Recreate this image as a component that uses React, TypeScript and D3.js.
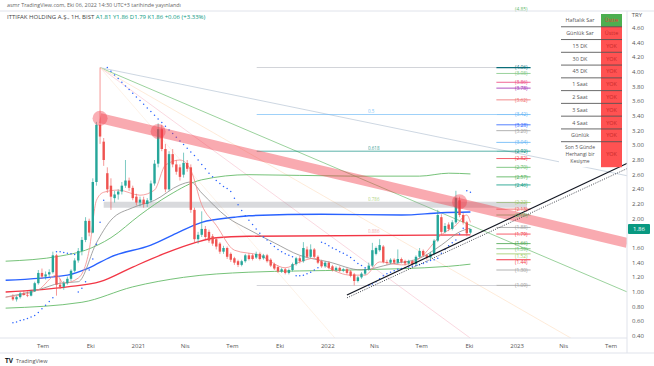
import { useEffect, useRef } from 'react';
import * as d3 from 'd3';

const W = 654;
const H = 366;
const plotRight = 627;
const plotTop = 11;
const plotBottom = 338;

// weekly bars, first bar week of 4 May 2020
const firstWeek = new Date(2020, 4, 4);

const opens = [0.93, 0.90, 0.93, 0.98, 0.96, 0.95, 1.01, 1.12, 1.26, 1.21, 1.24, 1.27, 1.50, 1.10, 1.07, 1.12, 1.18, 1.29, 1.43, 1.56,
  1.71, 1.97, 1.81, 2.50, 3.28, 3.05, 2.62, 2.45, 2.28, 2.33, 2.37, 2.45, 2.52, 2.42, 2.30, 2.22, 2.26, 2.20, 2.25, 2.48,
  2.75, 3.22, 2.95, 2.40, 2.88, 2.74, 2.70, 2.60, 2.76, 2.70, 2.12, 1.72, 1.78, 1.86, 1.82, 1.76, 1.72, 1.66, 1.55, 1.60,
  1.52, 1.46, 1.42, 1.37, 1.42, 1.50, 1.50, 1.47, 1.52, 1.46, 1.50, 1.44, 1.38, 1.34, 1.28, 1.31, 1.26, 1.30, 1.38, 1.46,
  1.42, 1.58, 1.48, 1.58, 1.48, 1.42, 1.35, 1.40, 1.35, 1.30, 1.33, 1.29, 1.31, 1.28, 1.24, 1.15, 1.20, 1.25, 1.31, 1.36,
  1.52, 1.57, 1.62, 1.41, 1.40, 1.44, 1.40, 1.45, 1.42, 1.39, 1.42, 1.38, 1.48, 1.56, 1.50, 1.47, 1.52, 1.70, 2.02, 1.82,
  1.92, 1.86, 1.95, 2.25, 2.05, 1.95, 1.81];
const highs = [0.97, 0.95, 1.00, 1.02, 1.01, 1.03, 1.14, 1.30, 1.32, 1.28, 1.31, 1.55, 1.52, 1.18, 1.15, 1.21, 1.31, 1.46, 1.60, 1.75,
  2.02, 2.00, 2.55, 3.32, 4.06, 3.10, 2.70, 2.55, 2.38, 2.40, 2.50, 2.80, 2.56, 2.45, 2.34, 2.30, 2.30, 2.28, 2.52, 2.80,
  3.30, 3.28, 3.02, 2.92, 2.95, 2.80, 2.74, 2.90, 2.80, 2.74, 2.15, 1.82, 2.10, 1.90, 1.85, 1.79, 1.75, 1.68, 1.63, 1.62,
  1.54, 1.48, 1.44, 1.44, 1.52, 1.53, 1.52, 1.55, 1.54, 1.52, 1.52, 1.46, 1.40, 1.36, 1.33, 1.33, 1.32, 1.40, 1.48, 1.49,
  1.68, 1.62, 1.65, 1.60, 1.50, 1.44, 1.42, 1.42, 1.37, 1.35, 1.35, 1.33, 1.33, 1.30, 1.26, 1.22, 1.27, 1.33, 1.40, 1.67,
  1.62, 1.72, 1.64, 1.44, 1.46, 1.46, 1.58, 1.47, 1.44, 1.44, 1.44, 1.50, 1.60, 1.58, 1.52, 1.55, 1.72, 2.12, 2.06, 1.94,
  1.95, 1.98, 2.38, 2.30, 2.08, 1.97, 1.86];
const lows = [0.88, 0.87, 0.91, 0.95, 0.93, 0.94, 1.00, 1.10, 1.18, 1.17, 1.20, 1.25, 0.95, 1.04, 1.03, 1.10, 1.15, 1.27, 1.40, 1.50,
  1.68, 1.76, 1.80, 2.45, 3.02, 2.72, 2.35, 2.12, 2.22, 2.26, 2.33, 2.42, 2.38, 2.25, 2.18, 2.17, 2.15, 2.16, 2.22, 2.45,
  2.70, 2.92, 2.36, 2.38, 2.70, 2.60, 2.52, 2.56, 2.64, 2.08, 1.68, 1.66, 1.75, 1.72, 1.67, 1.63, 1.58, 1.52, 1.52, 1.45,
  1.41, 1.37, 1.34, 1.35, 1.40, 1.43, 1.43, 1.45, 1.43, 1.44, 1.40, 1.34, 1.30, 1.26, 1.26, 1.24, 1.24, 1.28, 1.36, 1.39,
  1.40, 1.46, 1.46, 1.46, 1.38, 1.33, 1.33, 1.31, 1.28, 1.28, 1.27, 1.27, 1.24, 1.20, 1.09, 1.13, 1.18, 1.23, 1.29, 1.34,
  1.50, 1.55, 1.39, 1.37, 1.38, 1.38, 1.38, 1.39, 1.36, 1.37, 1.36, 1.37, 1.46, 1.48, 1.44, 1.45, 1.50, 1.68, 1.78, 1.80,
  1.83, 1.84, 1.93, 2.02, 1.92, 1.76, 1.79];
const closes = [0.90, 0.93, 0.98, 0.96, 0.95, 1.01, 1.12, 1.26, 1.21, 1.24, 1.27, 1.50, 1.10, 1.07, 1.12, 1.18, 1.29, 1.43, 1.56, 1.71,
  1.97, 1.81, 2.50, 3.28, 3.12, 2.80, 2.40, 2.30, 2.33, 2.37, 2.45, 2.52, 2.42, 2.28, 2.22, 2.26, 2.20, 2.25, 2.48, 2.75,
  3.22, 2.95, 2.40, 2.88, 2.74, 2.64, 2.57, 2.76, 2.68, 2.12, 1.72, 1.78, 1.86, 1.75, 1.70, 1.66, 1.62, 1.55, 1.60, 1.48,
  1.44, 1.40, 1.37, 1.42, 1.50, 1.45, 1.45, 1.52, 1.45, 1.50, 1.42, 1.36, 1.32, 1.28, 1.31, 1.26, 1.30, 1.38, 1.46, 1.42,
  1.60, 1.48, 1.58, 1.48, 1.40, 1.35, 1.40, 1.33, 1.30, 1.33, 1.29, 1.31, 1.26, 1.22, 1.15, 1.20, 1.25, 1.31, 1.36, 1.57,
  1.60, 1.64, 1.41, 1.40, 1.44, 1.40, 1.45, 1.41, 1.39, 1.42, 1.38, 1.48, 1.56, 1.50, 1.47, 1.52, 1.70, 2.05, 1.82, 1.90,
  1.86, 1.95, 2.28, 2.05, 1.95, 1.80, 1.86];

// parabolic SAR, one value per bar
const sar = [0.58, 0.59, 0.61, 0.62, 0.64, 0.66, 0.68, 0.72, 0.77, 0.82, 0.87, 0.92, 1.55, 1.55, 1.54, 1.53, 1.52, 1.51, 1.00, 1.05,
  1.14, 1.30, 1.45, 1.65, 1.95, 2.25, 4.06, 4.01, 3.96, 3.91, 3.86, 3.81, 3.76, 3.71, 3.66, 3.61, 3.56, 3.51, 3.46, 3.41,
  3.36, 3.31, 3.26, 3.21, 3.16, 3.11, 3.06, 3.01, 2.96, 2.91, 2.86, 2.80, 2.74, 2.68, 2.62, 2.57, 2.52, 2.48, 2.44, 2.41,
  2.37, 2.28, 2.19, 2.11, 2.04, 1.98, 1.92, 1.86, 1.80, 1.75, 1.71, 1.66, 1.62, 1.58, 1.55, 1.52, 1.50, 1.48, 1.22, 1.22,
  1.23, 1.25, 1.27, 1.30, 1.33, 1.68, 1.66, 1.63, 1.60, 1.58, 1.55, 1.53, 1.50, 1.47, 1.43, 1.39, 1.36, 1.33, 1.09, 1.11,
  1.14, 1.18, 1.22, 1.25, 1.27, 1.29, 1.31, 1.32, 1.33, 1.34, 1.35, 1.36, 1.37, 1.39, 1.41, 1.43, 1.44, 1.46, 1.53, 1.58,
  1.63, 1.67, 1.71, 1.79, 1.87, 2.38, 2.36];

// indicator lines: [week index, price]
const upperGreen = [[-2, 1.42], [13, 1.49], [20, 1.57], [27, 1.74], [35, 2.05], [43, 2.32], [52, 2.53], [65, 2.60], [93, 2.58], [112, 2.58], [120, 2.62], [126, 2.61]];
const lowerGreen = [[-2, 0.78], [19, 0.86], [33, 1.07], [47, 1.20], [65, 1.27], [93, 1.30], [120, 1.35], [126, 1.38]];
const blueMa = [[-2, 1.16], [15, 1.23], [21, 1.33], [27, 1.48], [38, 1.64], [45, 1.80], [52, 1.95], [61, 2.02], [65, 2.04], [85, 2.06], [107, 2.05], [118, 2.08], [126, 2.09]];
const redMa = [[-2, 1.00], [15, 1.07], [24, 1.14], [33, 1.34], [42, 1.53], [50, 1.67], [56, 1.74], [65, 1.76], [126, 1.78]];
const greyMa = [[-2, 0.93], [7, 1.03], [13, 1.12], [18, 1.14], [23, 1.67], [27, 1.98], [33, 2.15], [39, 2.25], [46, 2.46], [49, 2.50], [52, 2.35], [59, 2.02], [65, 1.85], [72, 1.67], [79, 1.50], [87, 1.41], [96, 1.30], [104, 1.38], [112, 1.46], [118, 1.64], [123, 1.82], [126, 1.87]];
const fastMa = [[-2, 0.93], [7, 1.03], [12, 1.23], [14, 1.12], [18, 1.19], [21, 1.57], [23, 2.25], [25, 2.36], [29, 2.39], [35, 2.32], [39, 2.39], [42, 2.73], [46, 2.80], [49, 2.66], [52, 2.19], [56, 1.91], [61, 1.57], [68, 1.50], [75, 1.33], [79, 1.41], [83, 1.46], [87, 1.33], [93, 1.23], [97, 1.23], [101, 1.41], [107, 1.37], [112, 1.46], [118, 1.78], [122, 1.91], [125, 2.05], [126, 1.95]];

// fibonacci levels and colours
const fibValues = [4.85, 4.06, 3.98, 3.86, 3.78, 3.62, 3.42, 3.28, 3.20, 3.04, 2.92, 2.82, 2.70, 2.57, 2.46, 2.22, 2.13, 2.05, 1.88, 1.79, 1.66, 1.59, 1.52, 1.44, 1.30, 1.09];
const fibColors = ['#66bb6a', '#0b6e79', '#81c784', '#ec407a', '#9c27b0', '#ef6c6c', '#64b5f6', '#2962ff', '#9e9e9e', '#64b5f6', '#00897b', '#f23645', '#66bb6a',
  '#4caf50', '#089981', '#9ccc65', '#ef5350', '#66bb6a', '#9e9e9e', '#f23645', '#43a047', '#66bb6a', '#9ccc65', '#f23645', '#9e9e9e', '#9e9e9e'];
const fibLong = [4.06, 3.42, 2.92, 1.09];

const xTicks = [[2020, 6, 'Tem'], [2020, 9, 'Eki'], [2021, 0, '2021'], [2021, 3, 'Nis'], [2021, 6, 'Tem'], [2021, 9, 'Eki'], [2022, 0, '2022'],
  [2022, 3, 'Nis'], [2022, 6, 'Tem'], [2022, 9, 'Eki'], [2023, 0, '2023'], [2023, 3, 'Nis'], [2023, 6, 'Tem']];
const yTicks = d3.range(0.4, 4.61, 0.2);

const tableLabels = ['Haftalık Sar', 'Günlük Sar', '15 DK', '30 DK', '45 DK', '1 Saat', '2 Saat', '3 Saat', '4 Saat', 'Günlük', 'Son 5 Günde|Herhangi bir|Kesişme'];
const tableValues = ['Üstte', 'Üstte', 'YOK', 'YOK', 'YOK', 'YOK', 'YOK', 'YOK', 'YOK', 'YOK', 'YOK'];

export default function App() {
  const ref = useRef<SVGSVGElement | null>(null);

  useEffect(() => {
    const svg = d3.select(ref.current);
    svg.selectAll('*').remove();
    const font = '"Open Sans", "DejaVu Sans", sans-serif';

    const x = d3.scaleTime().domain([new Date(2020, 6, 1), new Date(2023, 6, 1)]).range([43, 611]);
    const y = d3.scaleLinear().domain([0.4, 4.0]).range([336, 72]);
    const wk = (i: number) => d3.timeWeek.offset(firstWeek, i);
    const right = x.invert(plotRight + 2);

    svg.append('rect').attr('width', W).attr('height', H).attr('fill', '#fff');

    svg.append('defs').append('clipPath').attr('id', 'plot')
      .append('rect').attr('x', 0).attr('y', plotTop).attr('width', plotRight).attr('height', plotBottom - plotTop);
    const g = svg.append('g').attr('clip-path', 'url(#plot)');

    const seg = (x1: Date, p1: number, x2: Date, p2: number) =>
      g.append('line').attr('x1', x(x1)).attr('y1', y(p1)).attr('x2', x(x2)).attr('y2', y(p2));

    // fan lines from the top
    const peak = wk(24);
    seg(peak, 4.06, right, 2.58).attr('stroke', '#b7c6d6').attr('stroke-width', 0.7);
    seg(peak, 4.06, right, 0.99).attr('stroke', '#81c784').attr('stroke-width', 0.8);
    seg(peak, 4.06, wk(126), 0.37).attr('stroke', '#f8c8d4').attr('stroke-width', 0.7);
    seg(peak, 4.06, new Date(2023, 3, 15), 0.37).attr('stroke', '#fde2c8').attr('stroke-width', 0.7);
    seg(peak, 4.06, new Date(2022, 0, 15), 0.37).attr('stroke', '#fbe9d6').attr('stroke-width', 0.6);

    // fib levels
    const longStart = new Date(2021, 7, 17);
    const stubStart = new Date(2022, 10, 22);
    const stubEnd = new Date(2023, 0, 27);
    fibValues.forEach((v, k) => {
      if (fibLong.includes(v)) {
        seg(longStart, v, stubStart, v).attr('stroke', v === 4.06 || v === 1.09 ? '#b2b5be' : fibColors[k])
          .attr('stroke-width', 0.8).attr('opacity', 0.8);
      }
      seg(stubStart, v, stubEnd, v).attr('stroke', fibColors[k]).attr('stroke-width', v === 1.44 || v === 4.06 ? 1.2 : 0.8);
    });

    // grey horizontal band
    seg(wk(25), 2.19, new Date(2023, 0, 20), 2.19).attr('stroke', '#9598a1').attr('stroke-width', 6).attr('opacity', 0.35);

    // moving averages
    const line = d3.line<number[]>().x(d => x(wk(d[0]))).y(d => y(d[1])).curve(d3.curveMonotoneX);
    const drawLine = (data: number[][], color: string, w: number) =>
      g.append('path').attr('d', line(data)).attr('fill', 'none').attr('stroke', color).attr('stroke-width', w);
    drawLine(lowerGreen, '#66bb6a', 0.9);
    drawLine(upperGreen, '#66bb6a', 0.9);
    drawLine(blueMa, '#2962ff', 1.4);
    drawLine(redMa, '#f23645', 1.3);
    drawLine(greyMa, '#8d8d8d', 0.8);
    drawLine(fastMa, '#f48a8a', 0.8);

    // candles
    const bars = closes.map((c, i) => ({ d: wk(i), o: opens[i], h: highs[i], l: lows[i], c }));
    const bw = 2.4;
    const cg = g.append('g');
    cg.selectAll('line.wick').data(bars).join('line').attr('class', 'wick')
      .attr('x1', b => x(b.d)).attr('x2', b => x(b.d))
      .attr('y1', b => y(b.h)).attr('y2', b => y(b.l))
      .attr('stroke', b => (b.c >= b.o ? '#26a69a' : '#ef5350')).attr('stroke-width', 0.6);
    cg.selectAll('rect').data(bars).join('rect')
      .attr('x', b => x(b.d) - bw / 2).attr('width', bw)
      .attr('y', b => y(Math.max(b.o, b.c)))
      .attr('height', b => Math.max(0.7, Math.abs(y(b.o) - y(b.c))))
      .attr('fill', b => (b.c >= b.o ? '#26a69a' : '#ef5350'));

    // parabolic SAR
    g.append('g').selectAll('circle').data(sar).join('circle')
      .attr('cx', (_, i) => x(wk(i))).attr('cy', d => y(d)).attr('r', 0.75).attr('fill', '#2962ff');

    // resistance band and touch circles
    seg(wk(24), 3.37, new Date(2023, 7, 1), 1.67).attr('stroke', '#f23645').attr('stroke-width', 10).attr('opacity', 0.42);
    [[24, 3.37], [40, 3.19], [123, 2.23]].forEach(([i, p]) => {
      g.append('circle').attr('cx', x(wk(i))).attr('cy', y(p)).attr('r', 7.5).attr('fill', '#f23645').attr('opacity', 0.4);
    });

    // support trend line
    seg(new Date(2022, 1, 7), 0.96, new Date(2023, 7, 3), 2.76).attr('stroke', '#131722').attr('stroke-width', 1.2);
    seg(new Date(2022, 1, 7), 0.92, new Date(2023, 7, 3), 2.69).attr('stroke', '#131722').attr('stroke-width', 0.8).attr('stroke-dasharray', '1,1.4');

    // fib labels, nudged apart where they crowd
    const labelY: number[] = [];
    fibValues.forEach((v, k) => {
      const want = y(v) + 1.7;
      labelY.push(k > 0 ? Math.max(want, labelY[k - 1] + 6.1) : want);
    });
    svg.append('g').selectAll('text').data(fibValues).join('text')
      .attr('x', 515).attr('y', (_, k) => labelY[k]).attr('font-family', font).attr('font-size', 4.9)
      .attr('fill', (_, k) => fibColors[k]).text(d => `(${d.toFixed(2)})`);
    const tiny = [['0.5', 3.42, '#64b5f6'], ['0.618', 2.92, '#00897b'], ['0.786', 2.22, '#9ccc65'], ['0.886', 1.79, '#ef9a9a']];
    tiny.forEach(([t, v, c]) => {
      svg.append('text').attr('x', 368).attr('y', y(v as number) - 1.5).attr('font-family', font).attr('font-size', 4.5)
        .attr('fill', c as string).attr('opacity', 0.8).text(t as string);
    });

    // table
    const tx0 = 559, tx1 = 601, tx2 = 622, ty0 = 14, rh = 12.77;
    tableLabels.forEach((lab, k) => {
      const top = ty0 + k * rh;
      const h = k === tableLabels.length - 1 ? 25.5 : rh;
      svg.append('rect').attr('x', tx0).attr('y', top).attr('width', tx1 - tx0).attr('height', h).attr('fill', '#fff');
      svg.append('rect').attr('x', tx1).attr('y', top).attr('width', tx2 - tx1).attr('height', h)
        .attr('fill', k === 0 ? '#4caf50' : '#ff5252');
      const lines = lab.split('|');
      const fs = lines.length > 1 ? 5 : 5.4;
      lines.forEach((t, j) => {
        svg.append('text').attr('x', (tx0 + tx1) / 2).attr('y', top + h / 2 + 2 + (j - (lines.length - 1) / 2) * 7)
          .attr('text-anchor', 'middle').attr('font-family', font).attr('font-size', fs).attr('fill', '#555').text(t);
      });
      svg.append('text').attr('x', (tx1 + tx2) / 2).attr('y', top + h / 2 + 2)
        .attr('text-anchor', 'middle').attr('font-family', font).attr('font-size', 5.4)
        .attr('fill', k === 0 ? '#e53935' : '#c62828').text(tableValues[k]);
      if (k > 0) {
        svg.append('line').attr('x1', tx0 + 2).attr('x2', tx2).attr('y1', top).attr('y2', top)
          .attr('stroke', '#444').attr('stroke-width', 0.8);
      }
    });

    // axes frame
    svg.append('line').attr('x1', plotRight).attr('x2', plotRight).attr('y1', plotTop).attr('y2', 353).attr('stroke', '#e0e3eb');
    svg.append('line').attr('x1', 0).attr('x2', plotRight).attr('y1', plotBottom).attr('y2', plotBottom).attr('stroke', '#e0e3eb');
    svg.append('line').attr('x1', 0).attr('x2', W).attr('y1', 353).attr('y2', 353).attr('stroke', '#e0e3eb');
    svg.append('line').attr('x1', 0).attr('x2', W).attr('y1', plotTop).attr('y2', plotTop).attr('stroke', '#e0e3eb');

    const last = closes[closes.length - 1];
    svg.append('g').selectAll('text').data(yTicks.filter(v => Math.abs(y(v) - y(last)) > 7)).join('text')
      .attr('x', 638).attr('y', d => y(d) + 2).attr('text-anchor', 'middle')
      .attr('font-family', font).attr('font-size', 6).attr('fill', '#555').text(d => d.toFixed(2));
    svg.append('text').attr('x', 637).attr('y', 17).attr('text-anchor', 'middle')
      .attr('font-family', font).attr('font-size', 6).attr('fill', '#555').text('TRY');

    svg.append('g').selectAll('text').data(xTicks).join('text')
      .attr('x', d => x(new Date(d[0] as number, d[1] as number, 1))).attr('y', 348).attr('text-anchor', 'middle')
      .attr('font-family', font).attr('font-size', 6).attr('fill', '#555').text(d => d[2] as string);

    // last price tag
    svg.append('rect').attr('x', 628).attr('y', y(last) - 5).attr('width', 22).attr('height', 10).attr('rx', 1).attr('fill', '#089981');
    svg.append('text').attr('x', 639).attr('y', y(last) + 2).attr('text-anchor', 'middle')
      .attr('font-family', font).attr('font-size', 6).attr('fill', '#fff').text(last.toFixed(2));

    // header
    svg.append('text').attr('x', 7).attr('y', 7).attr('font-family', font).attr('font-size', 5.4).attr('fill', '#666')
      .text('asmr TradingView.com, Eki 06, 2022 14:30 UTC+3 tarihinde yayınlandı');
    const title = svg.append('text').attr('x', 7).attr('y', 19).attr('font-family', font).attr('font-size', 6).attr('fill', '#444');
    title.append('tspan').text('ITTIFAK HOLDING A.Ş., 1H, BIST  ');
    title.append('tspan').attr('fill', '#089981')
      .text(`A${opens[126].toFixed(2)} Y${highs[126].toFixed(2)} D${lows[126].toFixed(2)} K${last.toFixed(2)} +0.06 (+3.33%)`);

    // footer logo
    svg.append('text').attr('x', 5).attr('y', 363).attr('font-family', font).attr('font-size', 6.5).attr('font-weight', 'bold')
      .attr('fill', '#131722').text('TV');
    svg.append('text').attr('x', 16).attr('y', 363).attr('font-family', font).attr('font-size', 5.5).attr('fill', '#555')
      .text('TradingView');
  }, []);

  return <svg ref={ref} width={W} height={H} style={{ position: 'absolute', left: 0, top: 0 }} />;
}
